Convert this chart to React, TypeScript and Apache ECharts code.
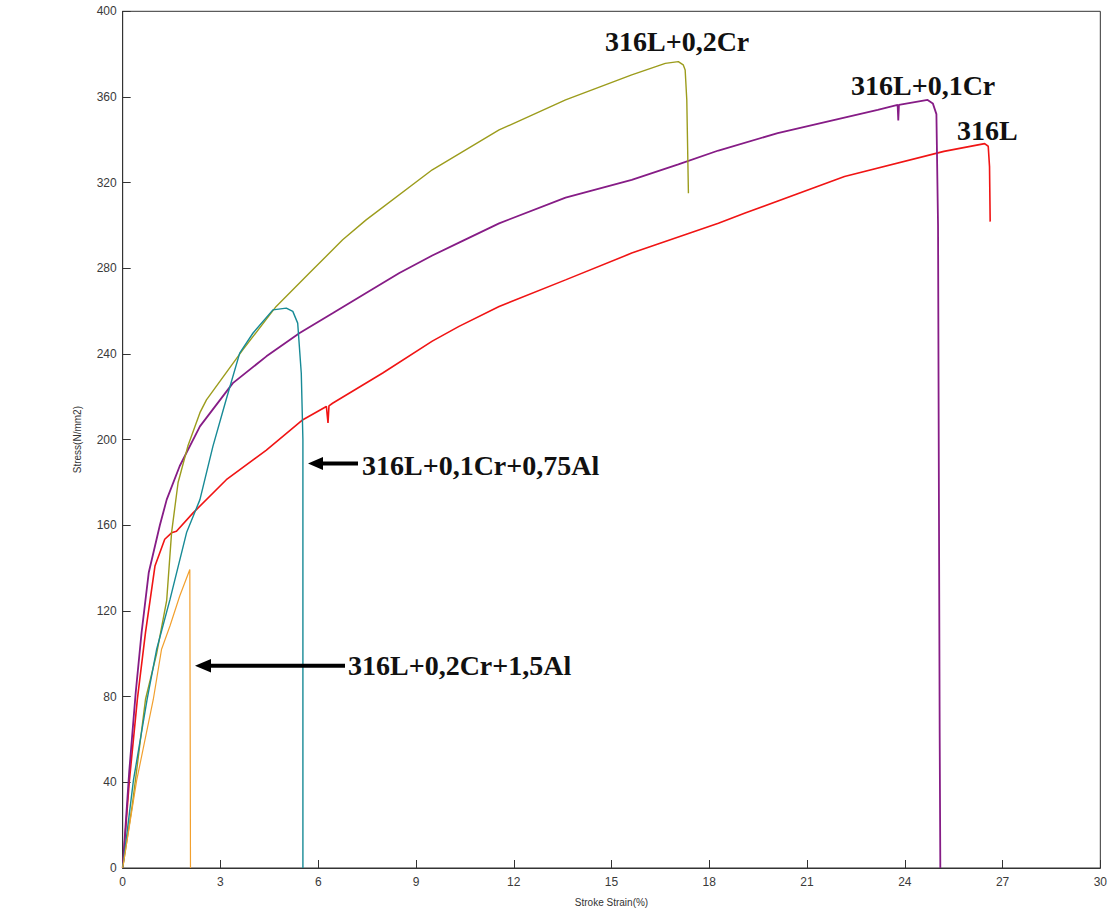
import React, { useEffect, useRef } from "react";
import * as echarts from "echarts";

// Axis settings
const X_MIN = 0;
const X_MAX = 30;
const X_STEP = 3;
const Y_MIN = 0;
const Y_MAX = 400;
const Y_STEP = 40;
const X_NAME = "Stroke Strain(%)";
const Y_NAME = "Stress(N/mm2)";

// Series names (labels shown on the chart)
const NAMES = ["316L", "316L+0,1Cr", "316L+0,2Cr", "316L+0,1Cr+0,75Al", "316L+0,2Cr+1,5Al"];
const COLORS = ["#f01414", "#861c86", "#9c9c1c", "#178a96", "#f2a02e"];

// 316L
const strainA = [0, 0.2, 0.45, 0.7, 0.99, 1.29, 1.5, 1.65, 2.16, 3.18, 4.4, 5.53, 6.25, 6.3, 6.33, 6.44, 7.98, 9.5, 10.32, 11.55, 13.59, 15.62, 18.28, 19.1, 22.15, 25.2, 26.45, 26.56, 26.6, 26.62];
const stressA = [0, 40, 78.8, 110, 141, 153.5, 156.5, 157.2, 165.8, 181.3, 195, 209.3, 215.5, 207.8, 215.8, 217, 231.1, 246, 252.9, 262.2, 274.6, 287.1, 301, 305.8, 322.9, 334.6, 338.2, 337, 327.5, 301.8];

// 316L+0,1Cr
const strainB = [0, 0.2, 0.4, 0.58, 0.8, 1.14, 1.35, 1.75, 2.37, 3.38, 4.41, 5.43, 6.44, 7.47, 8.49, 9.5, 10.32, 11.55, 13.59, 15.62, 17.05, 18.28, 20.1, 23.17, 23.78, 23.8, 23.82, 24.7, 24.86, 24.97, 25.02, 25.07, 25.09, 25.09];
const stressB = [0, 45, 82, 110, 138, 160, 172, 187.7, 206.2, 226.4, 238.9, 249.8, 259, 268.5, 277.8, 286, 292, 301, 313, 321.3, 328.5, 335, 343.1, 354, 356.3, 349, 356.3, 358.6, 357, 352, 300, 64, 64, 0];

// 316L+0,2Cr
const strainC = [0, 0.3, 0.7, 1.04, 1.35, 1.5, 1.7, 2.0, 2.37, 2.57, 3.69, 4.71, 5.73, 6.75, 7.47, 9.5, 11.55, 13.59, 15.62, 16.65, 17.05, 17.2, 17.26, 17.31, 17.36];
const stressC = [0, 30, 78.8, 100, 125, 156.6, 180, 197, 212.6, 218.6, 242, 262.2, 277.8, 293.3, 302.6, 326, 344.6, 358.6, 370.3, 375.7, 376.5, 375, 372.6, 358.6, 315];

// 316L+0,1Cr+0,75Al
const strainD = [0, 0.33, 0.75, 1.04, 1.45, 1.96, 2.37, 2.77, 3.18, 3.59, 4.0, 4.61, 5.02, 5.22, 5.37, 5.48, 5.53, 5.53];
const stressD = [0, 41, 78.8, 102, 125.3, 156.6, 172, 197, 219, 240.4, 249.8, 260.6, 261.4, 259.9, 254.4, 231, 200, 0];

// 316L+0,2Cr+1,5Al
const strainE = [0, 0.43, 0.94, 1.19, 1.45, 1.75, 2.06, 2.08, 2.08];
const stressE = [0, 41, 78.8, 102, 113, 127, 139.4, 139.4, 0];

const STRAINS = [strainA, strainB, strainC, strainD, strainE];
const STRESSES = [stressA, stressB, stressC, stressD, stressE];
const WIDTHS = [1.6, 1.8, 1.4, 1.4, 1.2];

const pairs = (xs: number[], ys: number[]) => xs.map((x, i) => [x, ys[i]]);

const LABEL_FONT = "Liberation Serif";

export default function App() {
  const ref = useRef<HTMLDivElement>(null);

  useEffect(() => {
    if (!ref.current) return;
    const chart = echarts.init(ref.current, undefined, { renderer: "svg" });

    const axisText = { color: "#3a3a3a", fontSize: 12, fontFamily: "Liberation Sans" };

    const series = NAMES.map((name, i) => ({
      name,
      type: "line" as const,
      data: pairs(STRAINS[i], STRESSES[i]),
      showSymbol: false,
      symbol: "none",
      lineStyle: { color: COLORS[i], width: WIDTHS[i] },
      itemStyle: { color: COLORS[i] },
      z: 2 + i,
    }));

    const labelText = (text: string, x: number, y: number) => ({
      type: "text",
      x,
      y,
      style: {
        text,
        fill: "#111",
        fontFamily: LABEL_FONT,
        fontWeight: "bold",
        fontSize: 28,
        align: "left",
        verticalAlign: "middle",
      },
      z: 100,
    });

    chart.setOption({
      animation: false,
      backgroundColor: "#ffffff",
      grid: {
        left: 122.7,
        right: 7,
        top: 11.3,
        bottom: 43.3,
        show: true,
        borderColor: "#333",
        borderWidth: 1,
        backgroundColor: "transparent",
        containLabel: false,
      },
      xAxis: {
        type: "value",
        min: X_MIN,
        max: X_MAX,
        interval: X_STEP,
        name: X_NAME,
        nameLocation: "middle",
        nameGap: 29,
        nameTextStyle: { color: "#333", fontSize: 10, fontFamily: "Liberation Sans" },
        axisLine: { show: true, onZero: false, lineStyle: { color: "#333", width: 1 } },
        axisTick: { show: true, inside: true, length: 8, lineStyle: { color: "#333" } },
        axisLabel: { ...axisText, margin: 8 },
        splitLine: { show: false },
      },
      yAxis: {
        type: "value",
        min: Y_MIN,
        max: Y_MAX,
        interval: Y_STEP,
        name: Y_NAME,
        nameLocation: "middle",
        nameGap: 40,
        nameTextStyle: { color: "#333", fontSize: 10, fontFamily: "Liberation Sans" },
        axisLine: { show: true, onZero: false, lineStyle: { color: "#333", width: 1 } },
        axisTick: { show: true, inside: true, length: 8, lineStyle: { color: "#333" } },
        axisLabel: { ...axisText, margin: 6 },
        splitLine: { show: false },
      },
      series,
      graphic: [
        labelText(NAMES[2], 605, 41),
        labelText(NAMES[1], 851, 85),
        labelText(NAMES[0], 957, 130),
        labelText(NAMES[3], 362, 465),
        labelText(NAMES[4], 348, 665.5),
        {
          type: "line",
          shape: { x1: 320, y1: 463.5, x2: 358, y2: 463.5 },
          style: { stroke: "#000", lineWidth: 4 },
          z: 100,
        },
        {
          type: "polygon",
          shape: { points: [[308, 463.5], [323, 457], [323, 470]] },
          style: { fill: "#000" },
          z: 100,
        },
        {
          type: "line",
          shape: { x1: 208, y1: 665.7, x2: 345, y2: 665.7 },
          style: { stroke: "#000", lineWidth: 4 },
          z: 100,
        },
        {
          type: "polygon",
          shape: { points: [[195, 665.7], [211, 659], [211, 672.4]] },
          style: { fill: "#000" },
          z: 100,
        },
      ],
    });

    return () => chart.dispose();
  }, []);

  return (
    <div
      ref={ref}
      style={{ position: "absolute", left: 0, top: 0, width: 1110, height: 912, background: "#fff" }}
    />
  );
}
